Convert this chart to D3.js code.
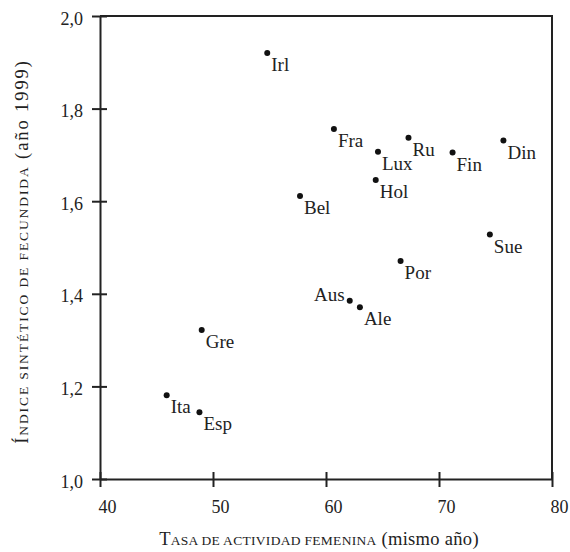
<!DOCTYPE html>
<html lang="es">
<head>
<meta charset="utf-8">
<title>Fecundidad y actividad femenina</title>
<script src="https://cdn.jsdelivr.net/npm/d3@7"></script>
<style>
  body { margin: 0; background: #fff; }
  svg text { font-family: "Liberation Serif", "DejaVu Serif", serif; fill: #222; }
  .axis path, .axis line { stroke: #222; stroke-width: 2; }
</style>
</head>
<body>
<script>
// data
var countries = ["Irl", "Fra", "Ru", "Lux", "Fin", "Din", "Hol", "Bel", "Sue", "Por",
                 "Aus", "Ale", "Gre", "Ita", "Esp"];
var actividad = [54.8, 60.7, 67.3, 64.6, 71.2, 75.7, 64.4, 57.7, 74.5, 66.6,
                 62.1, 63.0, 49.0, 45.9, 48.8];
var fecundidad = [1.92, 1.756, 1.737, 1.707, 1.705, 1.731, 1.646, 1.611, 1.528, 1.471,
                  1.385, 1.371, 1.322, 1.181, 1.144];
var xTicks = [40, 50, 60, 70, 80];
var yTicks = [1.0, 1.2, 1.4, 1.6, 1.8, 2.0];
var leftLabels = ["Aus"];

var w = 570, h = 552;
var margin = {top: 16, right: 18, bottom: 73, left: 100};

var svg = d3.select("body").append("svg")
  .attr("width", w)
  .attr("height", h);

var x = d3.scaleLinear().domain([40, 80]).range([margin.left, w - margin.right]);
var y = d3.scaleLinear().domain([1, 2]).range([h - margin.bottom, margin.top]);

var fmt = function(d) { return d3.format(".1f")(d).replace(".", ","); };

// frame (top and right sides)
svg.append("path")
  .attr("d", "M" + x(40) + "," + y(2) + "H" + x(80) + "V" + y(1))
  .attr("fill", "none")
  .attr("stroke", "#222")
  .attr("stroke-width", 2);

// x axis, ticks cross the line
var xAxis = svg.append("g")
  .attr("class", "axis")
  .attr("transform", "translate(0," + y(1) + ")")
  .call(d3.axisBottom(x).tickValues(xTicks).tickSize(8).tickSizeOuter(0).tickFormat(d3.format("d")));
xAxis.selectAll(".tick line").attr("y1", -7);
xAxis.selectAll(".tick text")
  .attr("font-size", 18)
  .attr("font-family", null)
  .attr("dx", 7)
  .attr("y", 21)
  .attr("dy", "0.71em");

var yAxis = svg.append("g")
  .attr("class", "axis")
  .attr("transform", "translate(" + x(40) + ",0)")
  .call(d3.axisLeft(y).tickValues(yTicks).tickSize(8).tickSizeOuter(0).tickFormat(fmt));
yAxis.selectAll(".tick line").attr("x1", 7);
yAxis.selectAll(".tick text")
  .attr("font-size", 18)
  .attr("font-family", null)
  .attr("x", -17)
  .attr("dy", "0.45em");

// points
svg.selectAll("circle.pt")
  .data(countries)
  .enter().append("circle")
  .attr("class", "pt")
  .attr("cx", function(d, i) { return x(actividad[i]); })
  .attr("cy", function(d, i) { return y(fecundidad[i]); })
  .attr("r", 3)
  .attr("fill", "#111");

svg.selectAll("text.lbl")
  .data(countries)
  .enter().append("text")
  .attr("class", "lbl")
  .attr("font-size", 19)
  .attr("text-anchor", function(d) { return leftLabels.indexOf(d) >= 0 ? "end" : "start"; })
  .attr("x", function(d, i) { return x(actividad[i]) + (leftLabels.indexOf(d) >= 0 ? -5 : 4); })
  .attr("y", function(d, i) { return y(fecundidad[i]) + (leftLabels.indexOf(d) >= 0 ? 0 : 18); })
  .text(function(d) { return d; });

// axis titles with small caps done by hand
function smallCaps(sel, first, rest, tail) {
  sel.append("tspan").attr("font-size", 18.5).text(first);
  sel.append("tspan").attr("font-size", 13.5).text(rest.toUpperCase());
  sel.append("tspan").attr("font-size", 18.5).text(tail);
}

var xt = svg.append("text")
  .attr("text-anchor", "middle")
  .attr("letter-spacing", 0.3)
  .attr("x", (x(40) + x(80)) / 2 - 7)
  .attr("y", 545);
smallCaps(xt, "T", "asa de actividad femenina", " (mismo año)");

var yt = svg.append("text")
  .attr("text-anchor", "middle")
  .attr("letter-spacing", 1.9)
  .attr("transform", "translate(28," + ((y(1) + y(2)) / 2 + 4) + ") rotate(-90)");
smallCaps(yt, "Í", "ndice sintético de fecundida", " (año 1999)");
</script>
</body>
</html>
